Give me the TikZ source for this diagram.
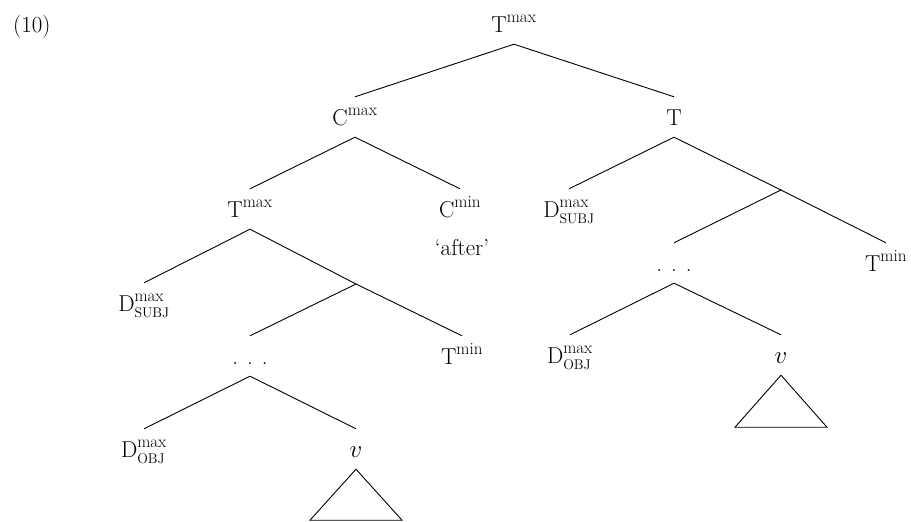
\documentclass[tikz,border=0pt]{standalone}
\usepackage{amsmath}
\usepackage{fontspec}
\DeclareMathSizes{23}{23}{17}{12}
\newcommand{\spdots}{\hbox{.\hspace{9pt}.\hspace{9pt}.}}
\newcommand{\subsc}[1]{\text{\fontsize{14}{14}\selectfont #1}}
\begin{document}
\begin{tikzpicture}[x=1pt,y=-1pt,
  lab/.style={inner xsep=0pt, inner ysep=8pt, text height=20pt, text depth=4pt, anchor=base, font=\fontsize{23}{27}\selectfont},
  edge/.style={line width=0.9pt}]
\useasboundingbox (0,0) rectangle (911,522);
\node[lab, anchor=base west] (ex) at (13,32) {(10)};
\node[lab] (root) at (514,32) {T$^{\text{max}}$};
\node[lab] (cmax) at (355,125) {C$^{\text{max}}$};
\node[lab] (t) at (674,125) {T};
\node[lab] (tl) at (250,217) {T$^{\text{max}}$};
\node[lab] (cmin) at (460,217) {C$^{\text{min}}$};
\node[lab] (after) at (462,255) {`after'};
\node[lab] (dsubjr) at (569,217) {D$^{\text{max}}_{\subsc{SUBJ}}$};
\coordinate (j2) at (781,190);
\node[lab] (dotsr) at (674,271) {\spdots};
\node[lab] (tminr) at (886,271) {T$^{\text{min}}$};
\node[lab] (dobjr) at (570,363) {D$^{\text{max}}_{\subsc{OBJ}}$};
\node[lab] (vr) at (781,363) {$v$};
\node[lab] (dsubjl) at (144,311) {D$^{\text{max}}_{\subsc{SUBJ}}$};
\coordinate (j1) at (356,284);
\node[lab] (dotsl) at (250,364) {\spdots};
\node[lab] (tminl) at (462,364) {T$^{\text{min}}$};
\node[lab] (dobjl) at (144,457) {D$^{\text{max}}_{\subsc{OBJ}}$};
\node[lab] (vl) at (356,457) {$v$};
\begin{scope}[edge]
\draw (root.south) -- (cmax.north);
\draw (root.south) -- (t.north);
\draw (cmax.south) -- (tl.north);
\draw (cmax.south) -- (cmin.north);
\draw (t.south) -- (dsubjr.north);
\draw (t.south) -- (j2);
\draw (j2) -- (dotsr.north);
\draw (j2) -- (tminr.north);
\draw (dotsr.south) -- (dobjr.north);
\draw (dotsr.south) -- (vr.north);
\draw (tl.south) -- (dsubjl.north);
\draw (tl.south) -- (j1);
\draw (j1) -- (dotsl.north);
\draw (j1) -- (tminl.north);
\draw (dotsl.south) -- (dobjl.north);
\draw (dotsl.south) -- (vl.north);
\draw (vr.south) -- ++(-46,52) -- ++(92,0) -- cycle;
\draw (vl.south) -- ++(-46,51) -- ++(92,0) -- cycle;
\end{scope}
\end{tikzpicture}
\end{document}
